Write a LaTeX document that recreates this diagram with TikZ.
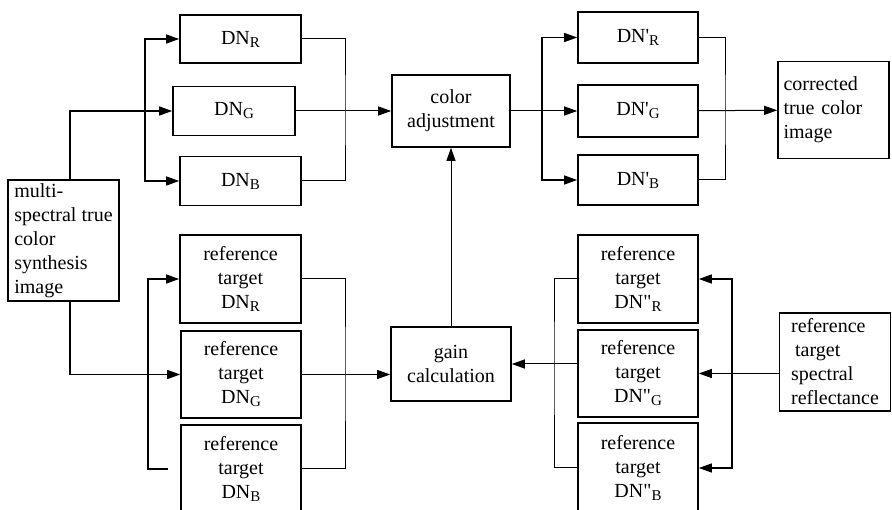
\documentclass[tikz,border=0pt]{standalone}
\usepackage{fontspec}
\setmainfont{Liberation Serif}
\usetikzlibrary{positioning, arrows.meta}

\newcommand{\chan}[1]{\raisebox{-3pt}{\fontsize{15}{15}\selectfont #1}}

\tikzset{
  blk/.style={draw, line width=1.6pt, inner sep=1pt, align=center,
    font=\fontsize{20}{24}\selectfont},
  bus/.style={line width=1.3pt},
  feed/.style={bus, -{Triangle[length=13pt,width=9pt]}},
  tie/.style={line width=1pt},
  link/.style={tie, -{Triangle[length=13pt,width=9pt]}}
}

\begin{document}
\begin{tikzpicture}[x=1pt, y=-1pt]
  \clip (0,0) rectangle (892,510);

  % Upper half
  \node[blk, minimum width=121pt, minimum height=48pt] (dnR) at (240.5,39) {DN\chan{R}};
  \node[blk, minimum width=122pt, minimum height=49pt] (dnG) at (234,111) {DN\chan{G}};
  \node[blk, minimum width=121pt, minimum height=49pt] (dnB) at (240.5,181) {DN\chan{B}};
  \node[blk, minimum width=118pt, minimum height=72pt] (adj) at (451,111) {color\\adjustment};
  \node[blk, minimum width=120pt, minimum height=51pt] (dnpR) at (638,37.5) {DN\textquotesingle\chan{R}};
  \node[blk, minimum width=120pt, minimum height=52pt] (dnpG) at (638,111) {DN\textquotesingle\chan{G}};
  \node[blk, minimum width=120pt, minimum height=50pt] (dnpB) at (638,180) {DN\textquotesingle\chan{B}};
  \node[blk, minimum width=111pt, minimum height=97pt, text width=100pt, align=left] (out) at (833.5,110) {corrected\\true color\\image};

  % Lower half
  \node[blk, minimum width=111pt, minimum height=121pt, align=left] (src) at (63.5,240.5) {multi-\\spectral true\\color\\synthesis\\image};
  \node[blk, minimum width=121pt, minimum height=88pt] (refR) at (240.5,279) {reference\\target\\DN\chan{R}};
  \node[blk, minimum width=120pt, minimum height=87pt] (refG) at (241,374.5) {reference\\target\\DN\chan{G}};
  \node[blk, minimum width=120pt, minimum height=88pt] (refB) at (241,469) {reference\\target\\DN\chan{B}};
  \node[blk, minimum width=120pt, minimum height=74pt] (gain) at (451,364) {gain\\calculation};
  \node[blk, minimum width=120pt, minimum height=88pt] (refpR) at (638,279) {reference\\target\\DN\textquotedbl\chan{R}};
  \node[blk, minimum width=120pt, minimum height=87pt] (refpG) at (638,373.5) {reference\\target\\DN\textquotedbl\chan{G}};
  \node[blk, minimum width=120pt, minimum height=90pt] (refpB) at (638,468) {reference\\target\\DN\textquotedbl\chan{B}};
  \node[blk, minimum width=111pt, minimum height=98pt, align=left] (refl) at (835,362) {reference\\\hspace*{4pt}target\\spectral\\reflectance};

  % Bus points
  \coordinate (busA) at (145,111);
  \coordinate (busB) at (345,111);
  \coordinate (busC) at (542,111);
  \coordinate (busH) at (725,111);
  \coordinate (busD) at (148,374.5);
  \coordinate (busE) at (345,374.5);
  \coordinate (busF) at (554,364);
  \coordinate (busG) at (732,373.5);
  \coordinate (stub) at ([xshift=-12pt]refB.west);

  % Arrows, upper half
  \draw[feed] ([xshift=6.5pt]src.north) |- (dnG);
  \draw[feed] (busA) |- (dnR);
  \draw[feed] (busA) |- (dnB);
  \draw[tie] (dnR) -| (busB) |- (dnB);
  \draw[link] (dnG) -- (adj);
  \draw[link] (adj) -- (dnpG);
  \draw[feed] (busC) |- (dnpR);
  \draw[feed] (busC) |- (dnpB);
  \draw[tie] (dnpR) -| (busH) |- (dnpB);
  \draw[link] (dnpG) -- (out);

  % Arrows, lower half
  \draw[feed] ([xshift=6.5pt]src.south) |- (refG);
  \draw[feed] (busD) |- (refR);
  \draw[bus] (busD) |- (stub);
  \draw[tie] (refR) -| (busE) |- (refB);
  \draw[link] (refG.east) -- (refG.east -| gain.west);
  \draw[link] (gain) -- (adj);
  \draw[tie] (refpR) -| (busF) |- (refpB);
  \draw[link] (refpG.west |- gain.east) -- (gain.east);
  \draw[link] (refl.west |- refpG.east) -- (refpG.east);
  \draw[feed] (busG) |- (refpR);
  \draw[feed] (busG) |- (refpB);
\end{tikzpicture}
\end{document}
